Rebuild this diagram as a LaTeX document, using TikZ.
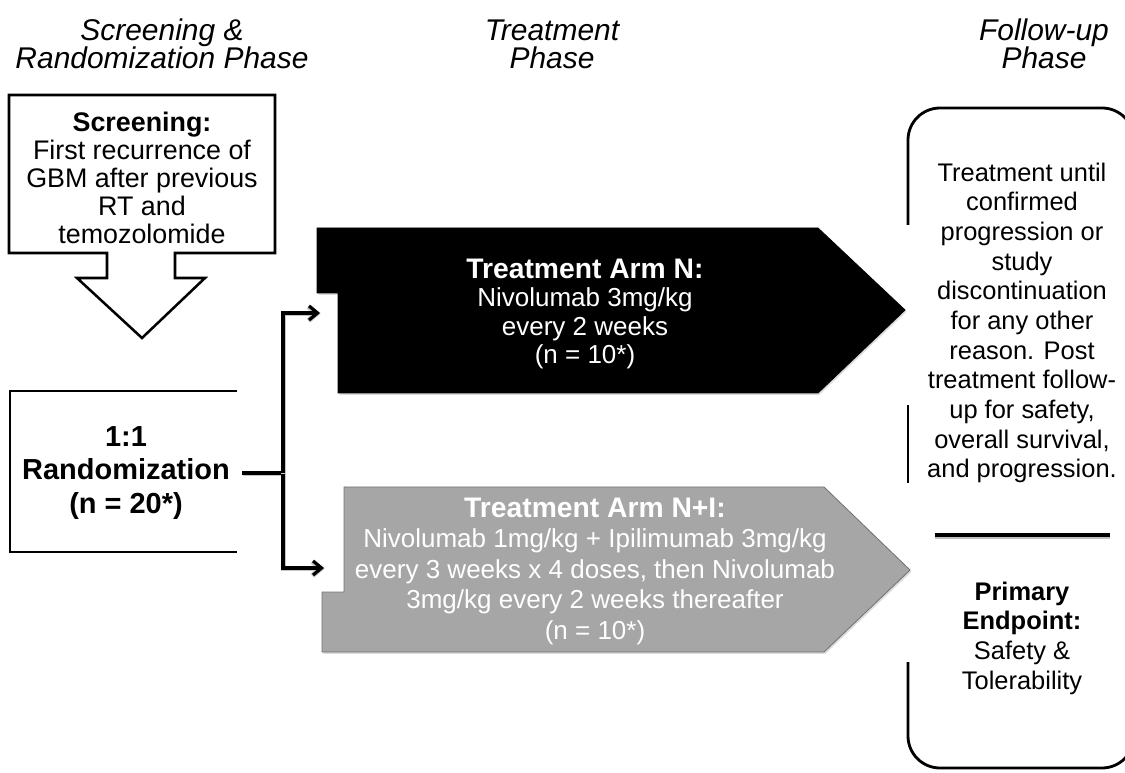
\documentclass[tikz,border=0pt]{standalone}
\usepackage{fontspec}
\setmainfont{Liberation Sans}
\usetikzlibrary{arrows.meta,shadows}

\definecolor{armgray}{RGB}{166,166,166}
\setlength{\lineskiplimit}{-20pt}
\setlength{\normallineskiplimit}{-20pt}

\tikzset{
  head/.style={align=center, font=\fontsize{21.3}{19.9}\selectfont\itshape},
  scrtext/.style={align=center, font=\fontsize{19.1}{19.8}\selectfont},
  randtext/.style={align=center, inner xsep=0.3cm, font=\fontsize{20.6}{23.8}\selectfont\bfseries},
  armtext/.style={align=center, text=white, font=\fontsize{18.5}{20.3}\selectfont},
  foltext/.style={align=center, font=\fontsize{18.1}{21.1}\selectfont},
  box/.style={draw, line width=1.8pt, line join=miter},
  bracket/.style={draw, line width=2pt},
  armshape/.style={line width=0.6pt, drop shadow={shadow xshift=1pt, shadow yshift=-1.3pt, fill=gray!55}},
  conn/.style={line width=2.3pt, -{Straight Barb[length=6pt,width=10pt]},
    preaction={draw=gray!45, line width=3.6pt, transform canvas={xshift=0.5pt, yshift=-0.5pt}}},
  sepline/.style={line width=2.8pt}
}

\begin{document}
\begin{tikzpicture}[x=0.025cm, y=-0.025cm]
\useasboundingbox (0,0) rectangle (1125,773);

% phase headings
\node[head] (hScr) at (162,44) {Screening \&\\Randomization Phase};
\node[head] (hTrt) at (552,44) {Treatment\\Phase};
\node[head] (hFol) at (1044,44) {Follow-up\\Phase};

% screening box with the block arrow under it
\draw[box] (9,95) -- (275,95) -- (275,253) -- (175,253) -- (175,278) -- (205,278) -- (142,338)
  -- (77,278) -- (107,278) -- (107,253) -- (9,253) -- cycle;
\node[scrtext] (scr) at (142,178) {\textbf{Screening:}\\First recurrence of\\GBM after previous\\RT and\\temozolomide};

% randomization box, open on the right
\draw[box] (237,391) -- (10,391) -- (10,552) -- (237,552);
\node[randtext] (rand) at (126,473) {1:1\\Randomization\\(n = 20*)};

% treatment arms
\draw[armshape, fill=black, draw=black] (317,228) -- (818,228) -- (905,310) -- (818,393) -- (338,393)
  -- (338,293) -- (317,293) -- cycle;
\node[armtext] (armN) at (585,314) {{\fontsize{20.1}{20.3}\selectfont\bfseries Treatment Arm N:}\\Nivolumab 3mg/kg\\every 2 weeks\\(n = 10*)};

\draw[armshape, fill=armgray, draw=black!55] (344,487) -- (824,487) -- (910,570) -- (824,652) -- (322,652)
  -- (322,592) -- (344,592) -- cycle;
\node[armtext, font=\fontsize{18.5}{21.7}\selectfont] (armNI) at (595,571)
  {{\fontsize{20.1}{21.7}\selectfont\bfseries Treatment Arm N+I:}\\Nivolumab 1mg/kg + Ipilimumab 3mg/kg\\every 3 weeks x 4 doses, then Nivolumab\\3mg/kg every 2 weeks thereafter\\(n = 10*)};

% randomization to the two arms
\coordinate (fork) at (283,473);
\coordinate (inN) at (320,313);
\coordinate (inNI) at (324,568);
\draw[conn] (rand.east) -- (fork) |- (inNI);
\draw[conn] (fork) |- (inN);

% follow-up bracket
\begin{scope}
  \clip (0,0) rectangle (1125,773);
  \draw[bracket, rounded corners=0.8cm] (908,225) -- (908,108) -- (1134,108) -- (1134,768) -- (908,768) -- (908,662);
\end{scope}
\draw[bracket] (908,405) -- (908,483);

\node[foltext] (follow) at (1022,323) {Treatment until\\confirmed\\progression or\\study\\discontinuation\\for any other\\reason. Post\\treatment follow-\\up for safety,\\overall survival,\\and progression.};
\draw[sepline, preaction={draw=gray!50, line width=3.6pt, transform canvas={yshift=-0.8pt}}] (935,535) -- (1110,535);
\node[foltext] (endpt) at (1022,638) {\textbf{Primary}\\\textbf{Endpoint:}\\Safety \&\\Tolerability};
\end{tikzpicture}
\end{document}
